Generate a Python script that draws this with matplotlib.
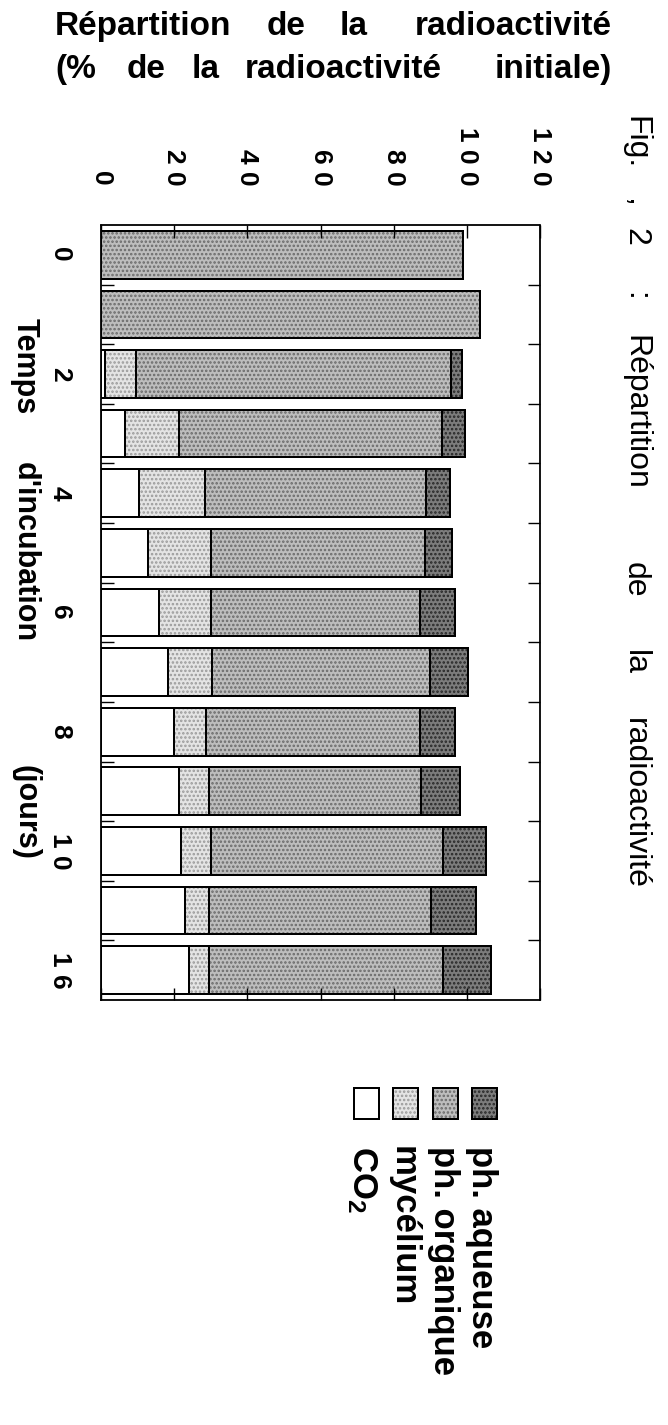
"""Répartition de la radioactivité au cours de l'incubation (Fig. 2)."""

import matplotlib
matplotlib.use('Agg')
import matplotlib.pyplot as plt
from matplotlib.patches import Rectangle

# data: % of initial radioactivity, one value per incubation time
day_labels = ['0', '', '2', '', '4', '', '6', '', '8', '', '10', '', '16']
co2 = [0, 0, 1.0, 6.6, 10.4, 12.9, 15.8, 18.2, 19.9, 21.3, 22.0, 23.0, 24.0]
organique = [0, 0, 8.6, 14.7, 18.0, 17.1, 14.3, 12.2, 8.8, 8.1, 8.2, 6.4, 5.4]
mycelium = [99.0, 103.5, 86.2, 72.0, 60.4, 58.7, 57.2, 59.5, 58.6, 58.0,
            63.3, 60.7, 64.0]
aqueuse = [0, 0, 3.0, 6.2, 6.6, 7.3, 9.4, 10.5, 9.6, 10.7, 11.7, 12.5, 13.3]
value_ticks = [0, 20, 40, 60, 80, 100, 120]

face = {'co2': 'white', 'org': '#e4e4e4', 'myc': '#bdbdbd', 'aq': '#7c7c7c'}
hatch_col = {'co2': 'black', 'org': '#9a9a9a', 'myc': '#6a6a6a', 'aq': '#262626'}

W, H = 668, 1425
plt.rcParams['font.family'] = ['Liberation Sans', 'DejaVu Sans']
plt.rcParams['mathtext.default'] = 'regular'
plt.rcParams['hatch.linewidth'] = 1.2


def fx(px):
    return px / W


def fy(py):
    return 1 - py / H


def spaced(s):
    return ' '.join(s)


def hatched_rect(draw, key):
    """Draw a patch three times: face, dot pattern, black outline."""
    draw(facecolor=face[key], edgecolor='black', linewidth=1.4)
    if key != 'co2':
        draw(facecolor='none', edgecolor=hatch_col[key], linewidth=0,
             hatch='....')
    draw(facecolor='none', edgecolor='black', linewidth=1.4)


fig = plt.figure(figsize=(W / 100, H / 100), dpi=100)
ax = fig.add_axes([fx(101), fy(1000), fx(540) - fx(101), fy(225) - fy(1000)])

pos = list(range(len(day_labels)))
left = [0] * len(day_labels)
stack = [('co2', co2), ('org', organique), ('myc', mycelium), ('aq', aqueuse)]
for key, vals in stack:
    hatched_rect(lambda **kw: ax.barh(pos, vals, left=left, height=0.8, **kw),
                 key)
    left = [a + b for a, b in zip(left, vals)]

ax.set_xlim(0, 120)
ax.set_ylim(len(day_labels) - 0.5, -0.5)

for side in ['left', 'right', 'top', 'bottom']:
    ax.spines[side].set_linestyle((0, (1, 1)))
    ax.spines[side].set_linewidth(1.3)

ax.set_xticks(value_ticks)
ax.set_xticklabels([spaced(str(v)) for v in value_ticks], rotation=-90,
                   fontsize=19, fontweight='bold')
ax.tick_params(axis='x', which='major', direction='in', length=9, width=1,
               top=True, bottom=True, labeltop=True, labelbottom=False,
               pad=28)

ax.set_yticks(pos)
ax.set_yticklabels([spaced(s) for s in day_labels], rotation=-90,
                   fontsize=19, fontweight='bold', va='center')
ax.set_yticks([p + 0.5 for p in pos[:-1]], minor=True)
ax.tick_params(axis='y', which='major', length=0, pad=21)
ax.tick_params(axis='y', which='minor', direction='in', length=9, width=1,
               left=True, right=True)

# value axis title, justified on two lines
bold = dict(fontsize=24, fontweight='bold', va='baseline')
for word, x, ha in [('Répartition', 55, 'left'), ('de', 286, 'center'),
                    ('la', 354, 'center'), ('radioactivité', 612, 'right')]:
    fig.text(fx(x), fy(35), word, ha=ha, **bold)
for word, x, ha in [('(%', 55, 'left'), ('de', 146, 'center'),
                    ('la', 206, 'center'), ('radioactivité', 245, 'left'),
                    ('initiale)', 612, 'right')]:
    fig.text(fx(x), fy(78), word, ha=ha, **bold)

# time axis title
rot = dict(rotation=-90, rotation_mode='anchor', ha='left', va='baseline')
for word, y in [('Temps', 318), ("d'incubation", 462), ('(jours)', 765)]:
    fig.text(fx(17), fy(y), word, fontsize=22, fontweight='bold', **rot)

# figure caption
for word, y in [('Fig.', 116), (',', 198), ('2', 228), (':', 292),
                ('Répartition', 335), ('de', 562), ('la', 650),
                ('radioactivité', 718)]:
    fig.text(fx(627), fy(y), word, fontsize=23, **rot)

# legend, left to right: CO2, ph. organique, mycélium, ph. aqueuse
legend_items = [('co2', 'CO$_2$', 354, 353),
                ('org', 'ph. organique', 393, 434),
                ('myc', 'mycélium', 433, 394),
                ('aq', 'ph. aqueuse', 472, 472)]
for key, label, px, tx in legend_items:
    hatched_rect(lambda **kw: fig.add_artist(
        Rectangle((fx(px), fy(1119)), fx(25), 31 / H,
                  transform=fig.transFigure, **kw)), key)
    fig.text(fx(tx), fy(1146), label, fontsize=25, fontweight='bold', **rot)

fig.savefig('out.png', dpi=100)
